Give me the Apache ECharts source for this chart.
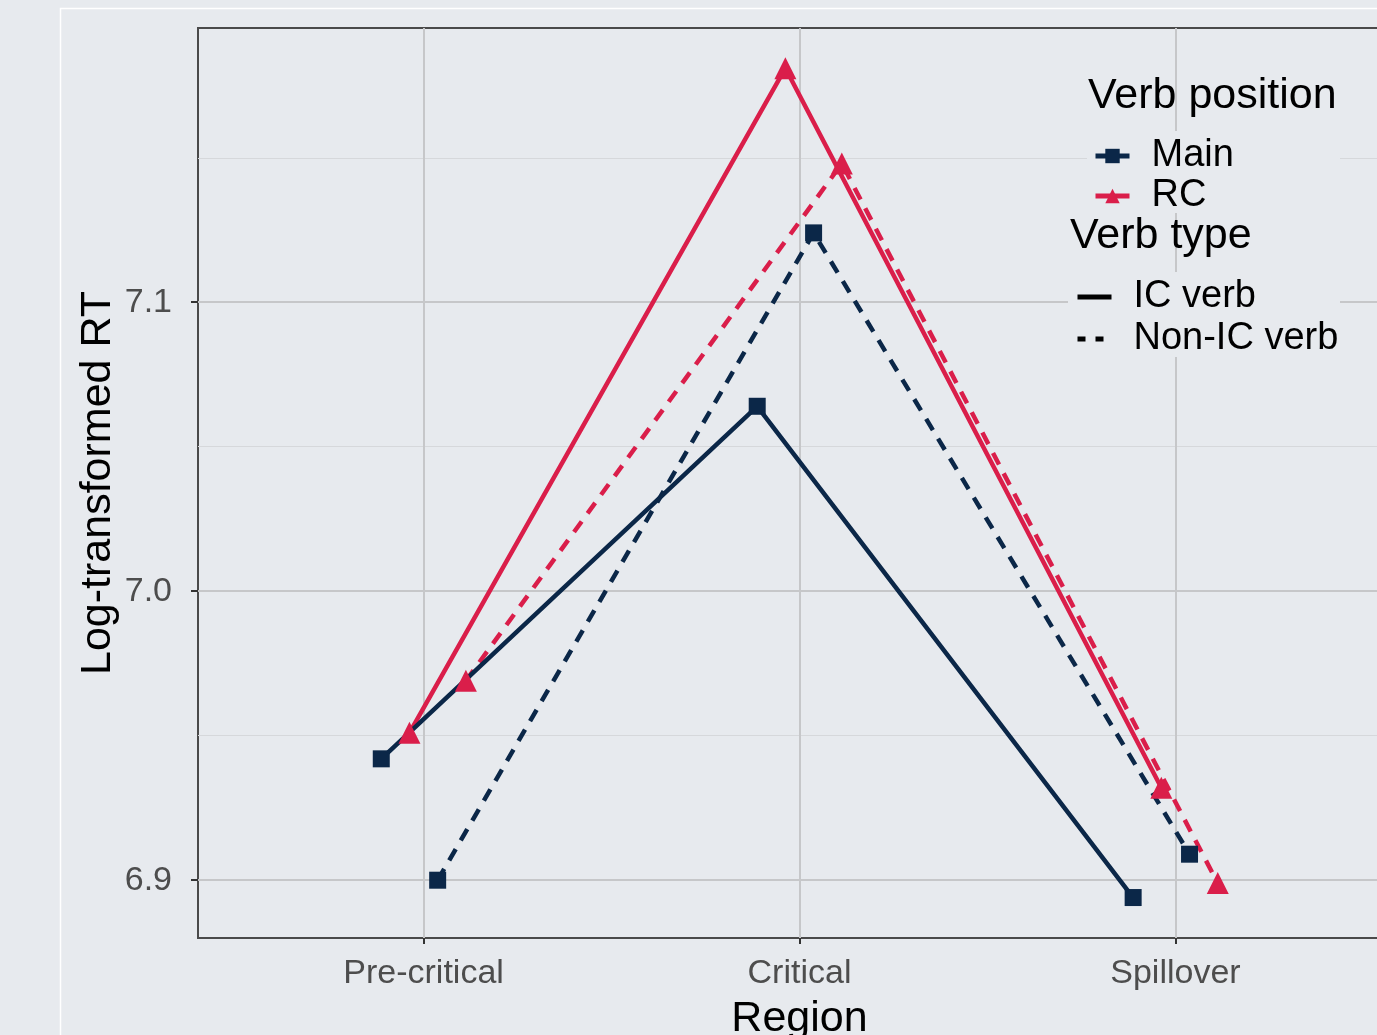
<!DOCTYPE html>
<html>
<head>
<meta charset="utf-8">
<script src="https://cdn.jsdelivr.net/npm/echarts@6/dist/echarts.min.js"></script>
<style>
html,body{margin:0;padding:0;background:#e7eaee;}
#chart{width:1377px;height:1035px;}
</style>
</head>
<body>
<div id="chart"></div>
<script>
// ---- data ----
var regions = ['Pre-critical', 'Critical', 'Spillover'];
var yTicks = [6.9, 7.0, 7.1];
var yMinorTicks = [6.95, 7.05, 7.15];
var mainIC    = [6.942, 7.064, 6.894];
var mainNonIC = [6.900, 7.124, 6.909];
var rcIC      = [6.951, 7.181, 6.932];
var rcNonIC   = [6.969, 7.148, 6.899];
// dodge offsets (ggplot position_dodge, width 0.3) per group order
var dodge = { mainIC: -0.1125, rcIC: -0.0375, mainNonIC: 0.0375, rcNonIC: 0.1125 };

var NAVY = '#0b2748', RED = '#da1e4a', BG = '#e7eaee';

function pts(vals, off) {
  return vals.map(function (v, i) { return [i + off, v]; });
}
function lineSeries(name, vals, off, color, sym, dashed, size) {
  return {
    name: name, type: 'line', data: pts(vals, off),
    symbol: sym, symbolSize: size, showSymbol: true,
    itemStyle: { color: color },
    lineStyle: { color: color, width: 4.5, type: dashed ? [13, 10] : 'solid' },
    emphasis: { disabled: true }, silent: true, animation: false, z: 3
  };
}
function legendDummy(name, color, sym, dashed, size) {
  return {
    name: name, type: 'line', data: [], symbol: sym, symbolSize: size,
    itemStyle: { color: color },
    lineStyle: { color: color, width: 5, type: dashed ? [8, 10] : 'solid' }
  };
}

var chart = echarts.init(document.getElementById('chart'), null, { renderer: 'canvas' });
var font = 'Liberation Sans, Arial, Helvetica, sans-serif';

var option = {
  backgroundColor: BG,
  animation: false,
  textStyle: { fontFamily: font },
  grid: {
    left: 198, top: 28, width: 1203, height: 910,
    outerBoundsMode: 'none', containLabel: false,
    show: true, backgroundColor: BG, borderColor: '#4a4a4a', borderWidth: 2
  },
  title: [
    { text: 'Verb position', left: 1083, top: 70,
      textStyle: { fontSize: 43, fontWeight: 'normal', color: '#000', fontFamily: font } },
    { text: 'Verb type', left: 1065, top: 210,
      textStyle: { fontSize: 43, fontWeight: 'normal', color: '#000', fontFamily: font } }
  ],
  legend: [
    {
      orient: 'vertical', left: 1093, top: 136, itemGap: 0,
      itemWidth: 34, itemHeight: 18, padding: 0, z: 10,
      data: ['Main', 'RC'], selectedMode: false,
      lineStyle: { width: 5 },
      textStyle: { fontSize: 38, color: '#000', lineHeight: 40, padding: [0, 0, 0, 17], fontFamily: font }
    },
    {
      orient: 'vertical', left: 1075, top: 276, itemGap: 0,
      itemWidth: 34, itemHeight: 16, padding: 0, z: 10,
      data: [{ name: 'IC verb', itemStyle: { opacity: 0 } },
             { name: 'Non-IC verb', itemStyle: { opacity: 0 } }],
      selectedMode: false,
      lineStyle: { width: 5 },
      textStyle: { fontSize: 38, color: '#000', lineHeight: 42, padding: [0, 0, 0, 17], fontFamily: font }
    }
  ],
  xAxis: [{
    type: 'value', min: -0.6, max: 2.6,
    axisLine: { show: false, onZero: false },
    axisTick: { show: true, length: 6, lineStyle: { color: '#333', width: 2 }, customValues: [0, 1, 2] },
    axisLabel: {
      customValues: [0, 1, 2], margin: 19, fontSize: 34, color: '#4d4d4d', fontFamily: font,
      formatter: function (v) { return regions[Math.round(v)]; }
    },
    splitLine: { show: true, lineStyle: { color: '#c6c7c9', width: 2 } },
    name: 'Region', nameLocation: 'middle', nameGap: 60, nameMoveOverlap: false,
    nameTextStyle: { fontSize: 43, color: '#000', fontFamily: font }
  }],
  yAxis: [{
    type: 'value', min: 6.88, max: 7.1949,
    axisLine: { show: false, onZero: false },
    axisTick: { show: true, length: 7, lineStyle: { color: '#333', width: 2 }, customValues: yTicks },
    axisLabel: {
      customValues: yTicks, margin: 26, fontSize: 34, color: '#4d4d4d', fontFamily: font,
      formatter: function (v) { return v.toFixed(1); }
    },
    splitLine: { show: true, lineStyle: { color: '#c6c7c9', width: 2 } },
    name: 'Log-transformed RT', nameLocation: 'middle', nameGap: 78, nameMoveOverlap: false,
    nameTextStyle: { fontSize: 43, color: '#000', fontFamily: font }
  }, {
    type: 'value', min: 6.88, max: 7.1949, position: 'left',
    axisLine: { show: false, onZero: false },
    axisTick: { show: false, customValues: yMinorTicks },
    axisLabel: { show: false, customValues: yMinorTicks },
    splitLine: { show: true, lineStyle: { color: '#d6d8db', width: 1 } }
  }],
  graphic: [
    { type: 'rect', shape: { x: 60.5, y: 8.5, width: 1400, height: 1100 },
      style: { fill: null, stroke: '#ffffff', lineWidth: 1.5 }, z: 1, silent: true },
    { type: 'rect', shape: { x: 1087, y: 131, width: 253, height: 82 },
      style: { fill: BG }, z: 2, silent: true },
    { type: 'rect', shape: { x: 1068, y: 272, width: 272, height: 85 },
      style: { fill: BG }, z: 2, silent: true }
  ],
  series: [
    lineSeries('RC-IC', rcIC, dodge.rcIC, RED, 'triangle', false, 22),
    lineSeries('RC-NonIC', rcNonIC, dodge.rcNonIC, RED, 'triangle', true, 22),
    lineSeries('Main-IC', mainIC, dodge.mainIC, NAVY, 'rect', false, 17),
    lineSeries('Main-NonIC', mainNonIC, dodge.mainNonIC, NAVY, 'rect', true, 17),
    legendDummy('Main', NAVY, 'rect', false, 12),
    legendDummy('RC', RED, 'triangle', false, 14),
    legendDummy('IC verb', '#000', 'none', false, 0),
    legendDummy('Non-IC verb', '#000', 'none', true, 0)
  ]
};
chart.setOption(option);
</script>
</body>
</html>
